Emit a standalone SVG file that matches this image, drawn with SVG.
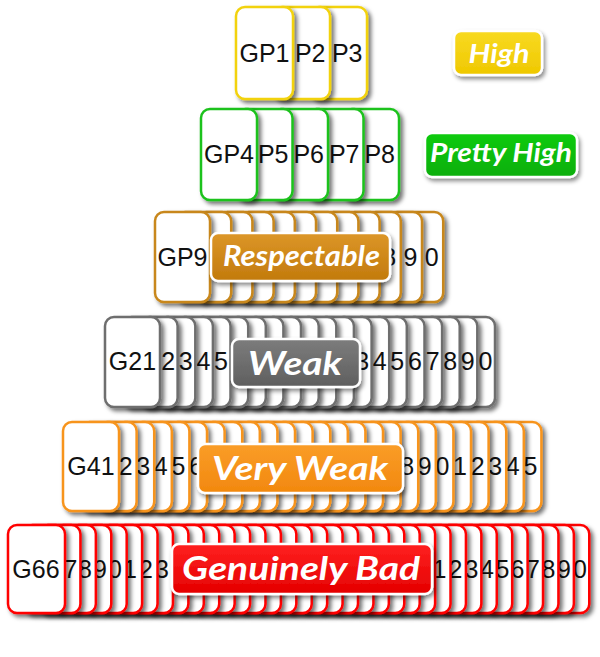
<svg xmlns="http://www.w3.org/2000/svg" xmlns:xlink="http://www.w3.org/1999/xlink" width="600" height="657" viewBox="0 0 600 657">
<style>
.card{fill:#fff;stroke-width:2.5;filter:url(#sh)}
.y{stroke:#f2d20c}.g{stroke:#1ec21e}.b{stroke:#c8871a}.k{stroke:#6e6e6e}.o{stroke:#f7941e}.r{stroke:#ff0000}
.t{font-family:"Liberation Sans",Arial,sans-serif;font-size:25px;fill:#111;text-anchor:middle}
.e{text-anchor:end}
.lb{stroke:#fff;stroke-width:2.5;filter:url(#sh2)}
.lt{font-family:Lato,"Open Sans",sans-serif;font-weight:bold;font-style:italic;fill:#fff;text-anchor:middle}
</style>
<defs>
<filter id="sh" x="-30%" y="-20%" width="170%" height="150%"><feDropShadow dx="3" dy="3" stdDeviation="2.2" flood-color="#000" flood-opacity="0.55"/></filter>
<filter id="sh2" x="-20%" y="-30%" width="150%" height="180%"><feDropShadow dx="2" dy="3" stdDeviation="2" flood-color="#000" flood-opacity="0.45"/></filter>
<linearGradient id="gY" x1="0" y1="0" x2="0" y2="1"><stop offset="0" stop-color="#f8da22"/><stop offset="1" stop-color="#efc800"/></linearGradient>
<linearGradient id="gG" x1="0" y1="0" x2="0" y2="1"><stop offset="0" stop-color="#0fcb0f"/><stop offset="1" stop-color="#0aae0a"/></linearGradient>
<linearGradient id="gB" x1="0" y1="0" x2="0" y2="1"><stop offset="0" stop-color="#dc9628"/><stop offset="1" stop-color="#c27a0c"/></linearGradient>
<linearGradient id="gK" x1="0" y1="0" x2="0" y2="1"><stop offset="0" stop-color="#7c7c7c"/><stop offset="1" stop-color="#5f5f5f"/></linearGradient>
<linearGradient id="gO" x1="0" y1="0" x2="0" y2="1"><stop offset="0" stop-color="#fa9d28"/><stop offset="1" stop-color="#f2880e"/></linearGradient>
<linearGradient id="gR" x1="0" y1="0" x2="0" y2="1"><stop offset="0" stop-color="#ff2020"/><stop offset="1" stop-color="#e40000"/></linearGradient>
<rect id="c1" class="card y" width="57" height="92" rx="9"/>
<rect id="c2" class="card g" width="56" height="91" rx="9"/>
<rect id="c3" class="card b" width="55" height="90" rx="9"/>
<rect id="c4" class="card k" width="55" height="90" rx="9"/>
<rect id="c5" class="card o" width="56" height="89" rx="9"/>
<rect id="c6" class="card r" width="57" height="88" rx="9"/>
</defs>

<g id="row-high">
<g id="GP3"><use href="#c1" x="310" y="7"/><text class="t e" x="362.5" y="62">P3</text></g>
<g id="GP2"><use href="#c1" x="273" y="7"/><text class="t e" x="325.5" y="62">P2</text></g>
<g id="GP1"><use href="#c1" x="236" y="7"/><text class="t" x="264.5" y="62">GP1</text></g>
</g>

<g id="row-prettyhigh">
<g id="GP8"><use href="#c2" x="343" y="109"/><text class="t e" x="395" y="163">P8</text></g>
<g id="GP7"><use href="#c2" x="307.5" y="109"/><text class="t e" x="359.5" y="163">P7</text></g>
<g id="GP6"><use href="#c2" x="272" y="109"/><text class="t e" x="324" y="163">P6</text></g>
<g id="GP5"><use href="#c2" x="236.5" y="109"/><text class="t e" x="288.5" y="163">P5</text></g>
<g id="GP4"><use href="#c2" x="201" y="109"/><text class="t" x="229" y="163">GP4</text></g>
</g>

<g id="row-respectable">
<g id="GP20"><use href="#c3" x="388.2" y="212"/><text class="t" x="431.7" y="266">0</text></g>
<g id="GP19"><use href="#c3" x="367" y="212"/><text class="t" x="410.5" y="266">9</text></g>
<g id="GP18"><use href="#c3" x="345.8" y="212"/><text class="t" x="389.3" y="266">8</text></g>
<g id="GP17"><use href="#c3" x="324.6" y="212"/></g>
<g id="GP16"><use href="#c3" x="303.4" y="212"/></g>
<g id="GP15"><use href="#c3" x="282.2" y="212"/></g>
<g id="GP14"><use href="#c3" x="261" y="212"/></g>
<g id="GP13"><use href="#c3" x="239.8" y="212"/></g>
<g id="GP12"><use href="#c3" x="218.6" y="212"/></g>
<g id="GP11"><use href="#c3" x="197.4" y="212"/></g>
<g id="GP10"><use href="#c3" x="176.2" y="212"/></g>
<g id="GP9"><use href="#c3" x="155" y="212"/><text class="t" x="182.5" y="266">GP9</text></g>
</g>

<g id="row-weak">
<g id="G40"><use href="#c4" x="440" y="317"/><text class="t" x="485.5" y="370">0</text></g>
<g id="G39"><use href="#c4" x="422.3" y="317"/><text class="t" x="467.8" y="370">9</text></g>
<g id="G38"><use href="#c4" x="404.7" y="317"/><text class="t" x="450.2" y="370">8</text></g>
<g id="G37"><use href="#c4" x="387.1" y="317"/><text class="t" x="432.6" y="370">7</text></g>
<g id="G36"><use href="#c4" x="369.5" y="317"/><text class="t" x="415" y="370">6</text></g>
<g id="G35"><use href="#c4" x="351.8" y="317"/><text class="t" x="397.3" y="370">5</text></g>
<g id="G34"><use href="#c4" x="334.2" y="317"/><text class="t" x="379.7" y="370">4</text></g>
<g id="G33"><use href="#c4" x="316.6" y="317"/><text class="t" x="362.1" y="370">3</text></g>
<g id="G32"><use href="#c4" x="298.9" y="317"/></g>
<g id="G31"><use href="#c4" x="281.3" y="317"/></g>
<g id="G30"><use href="#c4" x="263.7" y="317"/></g>
<g id="G29"><use href="#c4" x="246" y="317"/></g>
<g id="G28"><use href="#c4" x="228.4" y="317"/></g>
<g id="G27"><use href="#c4" x="210.8" y="317"/></g>
<g id="G26"><use href="#c4" x="193.2" y="317"/></g>
<g id="G25"><use href="#c4" x="175.5" y="317"/><text class="t" x="221" y="370">5</text></g>
<g id="G24"><use href="#c4" x="157.9" y="317"/><text class="t" x="203.4" y="370">4</text></g>
<g id="G23"><use href="#c4" x="140.3" y="317"/><text class="t" x="185.8" y="370">3</text></g>
<g id="G22"><use href="#c4" x="122.6" y="317"/><text class="t" x="168.1" y="370">2</text></g>
<g id="G21"><use href="#c4" x="105" y="317"/><text class="t" x="132.5" y="370">G21</text></g>
</g>

<g id="row-veryweak">
<g id="G65"><use href="#c5" x="485.4" y="422"/><text class="t" x="530.4" y="475">5</text></g>
<g id="G64"><use href="#c5" x="467.8" y="422"/><text class="t" x="512.8" y="475">4</text></g>
<g id="G63"><use href="#c5" x="450.2" y="422"/><text class="t" x="495.2" y="475">3</text></g>
<g id="G62"><use href="#c5" x="432.6" y="422"/><text class="t" x="477.6" y="475">2</text></g>
<g id="G61"><use href="#c5" x="415" y="422"/><text class="t" x="460" y="475">1</text></g>
<g id="G60"><use href="#c5" x="397.4" y="422"/><text class="t" x="442.4" y="475">0</text></g>
<g id="G59"><use href="#c5" x="379.8" y="422"/><text class="t" x="424.8" y="475">9</text></g>
<g id="G58"><use href="#c5" x="362.2" y="422"/><text class="t" x="407.2" y="475">8</text></g>
<g id="G57"><use href="#c5" x="344.6" y="422"/></g>
<g id="G56"><use href="#c5" x="327" y="422"/></g>
<g id="G55"><use href="#c5" x="309.4" y="422"/></g>
<g id="G54"><use href="#c5" x="291.8" y="422"/></g>
<g id="G53"><use href="#c5" x="274.2" y="422"/></g>
<g id="G52"><use href="#c5" x="256.6" y="422"/></g>
<g id="G51"><use href="#c5" x="239" y="422"/></g>
<g id="G50"><use href="#c5" x="221.4" y="422"/></g>
<g id="G49"><use href="#c5" x="203.8" y="422"/></g>
<g id="G48"><use href="#c5" x="186.2" y="422"/></g>
<g id="G47"><use href="#c5" x="168.6" y="422"/></g>
<g id="G46"><use href="#c5" x="151" y="422"/><text class="t" x="196" y="475">6</text></g>
<g id="G45"><use href="#c5" x="133.4" y="422"/><text class="t" x="178.4" y="475">5</text></g>
<g id="G44"><use href="#c5" x="115.8" y="422"/><text class="t" x="160.8" y="475">4</text></g>
<g id="G43"><use href="#c5" x="98.2" y="422"/><text class="t" x="143.2" y="475">3</text></g>
<g id="G42"><use href="#c5" x="80.6" y="422"/><text class="t" x="125.6" y="475">2</text></g>
<g id="G41"><use href="#c5" x="63" y="422"/><text class="t" x="91" y="475">G41</text></g>
</g>

<g id="row-bad">
<g id="G100"><use href="#c6" x="532.28" y="525"/><text class="t" x="579.9" y="578">0</text></g>
<g id="G99"><use href="#c6" x="516.86" y="525"/><text class="t" x="564" y="578">9</text></g>
<g id="G98"><use href="#c6" x="501.44" y="525"/><text class="t" x="548.5" y="578">8</text></g>
<g id="G97"><use href="#c6" x="486.02" y="525"/><text class="t" x="533" y="578">7</text></g>
<g id="G96"><use href="#c6" x="470.6" y="525"/><text class="t" x="517.5" y="578">6</text></g>
<g id="G95"><use href="#c6" x="455.18" y="525"/><text class="t" x="502.5" y="578">5</text></g>
<g id="G94"><use href="#c6" x="439.76" y="525"/><text class="t" x="487" y="578">4</text></g>
<g id="G93"><use href="#c6" x="424.34" y="525"/><text class="t" x="471.5" y="578">3</text></g>
<g id="G92"><use href="#c6" x="408.92" y="525"/><text class="t" x="455.5" y="578">2</text></g>
<g id="G91"><use href="#c6" x="393.5" y="525"/><text class="t" x="439.5" y="578">1</text></g>
<g id="G90"><use href="#c6" x="378.08" y="525"/></g>
<g id="G89"><use href="#c6" x="362.66" y="525"/></g>
<g id="G88"><use href="#c6" x="347.24" y="525"/></g>
<g id="G87"><use href="#c6" x="331.82" y="525"/></g>
<g id="G86"><use href="#c6" x="316.4" y="525"/></g>
<g id="G85"><use href="#c6" x="300.98" y="525"/></g>
<g id="G84"><use href="#c6" x="285.56" y="525"/></g>
<g id="G83"><use href="#c6" x="270.14" y="525"/></g>
<g id="G82"><use href="#c6" x="254.72" y="525"/></g>
<g id="G81"><use href="#c6" x="239.3" y="525"/></g>
<g id="G80"><use href="#c6" x="223.88" y="525"/></g>
<g id="G79"><use href="#c6" x="208.46" y="525"/></g>
<g id="G78"><use href="#c6" x="193.04" y="525"/></g>
<g id="G77"><use href="#c6" x="177.62" y="525"/></g>
<g id="G76"><use href="#c6" x="162.2" y="525"/></g>
<g id="G75"><use href="#c6" x="146.78" y="525"/></g>
<g id="G74"><use href="#c6" x="131.36" y="525"/></g>
<g id="G73"><use href="#c6" x="115.94" y="525"/><text class="t" x="162" y="578">3</text></g>
<g id="G72"><use href="#c6" x="100.52" y="525"/><text class="t" x="146" y="578">2</text></g>
<g id="G71"><use href="#c6" x="85.1" y="525"/><text class="t" x="130" y="578">1</text></g>
<g id="G70"><use href="#c6" x="69.68" y="525"/><text class="t" x="115" y="578">0</text></g>
<g id="G69"><use href="#c6" x="54.26" y="525"/><text class="t" x="100" y="578">9</text></g>
<g id="G68"><use href="#c6" x="38.84" y="525"/><text class="t" x="85" y="578">8</text></g>
<g id="G67"><use href="#c6" x="23.42" y="525"/><text class="t" x="70.5" y="578">7</text></g>
<g id="G66"><use href="#c6" x="8" y="525"/><text class="t" x="36" y="578">G66</text></g>
</g>

<g id="label-high"><rect class="lb" x="454" y="31" width="88" height="44" rx="7" fill="url(#gY)"/><text class="lt" x="499" y="63" font-size="26" textLength="61" lengthAdjust="spacingAndGlyphs">High</text></g>
<g id="label-prettyhigh"><rect class="lb" x="425" y="133" width="152" height="44" rx="7" fill="url(#gG)"/><text class="lt" x="501" y="162" font-size="26" textLength="142" lengthAdjust="spacingAndGlyphs">Pretty High</text></g>
<g id="label-respectable"><rect class="lb" x="211" y="233" width="179" height="48" rx="7" fill="url(#gB)"/><text class="lt" x="301.5" y="266" font-size="29" textLength="157" lengthAdjust="spacingAndGlyphs">Respectable</text></g>
<g id="label-weak"><rect class="lb" x="232" y="339" width="128" height="48" rx="7" fill="url(#gK)"/><text class="lt" x="295" y="375" font-size="32" textLength="94" lengthAdjust="spacingAndGlyphs">Weak</text></g>
<g id="label-veryweak"><rect class="lb" x="198" y="444" width="205" height="49" rx="7" fill="url(#gO)"/><text class="lt" x="300" y="480" font-size="32" textLength="176" lengthAdjust="spacingAndGlyphs">Very Weak</text></g>
<g id="label-bad"><rect class="lb" x="172" y="544" width="260" height="50" rx="7" fill="url(#gR)"/><text class="lt" x="301" y="580" font-size="32" textLength="238" lengthAdjust="spacingAndGlyphs">Genuinely Bad</text></g>
</svg>
